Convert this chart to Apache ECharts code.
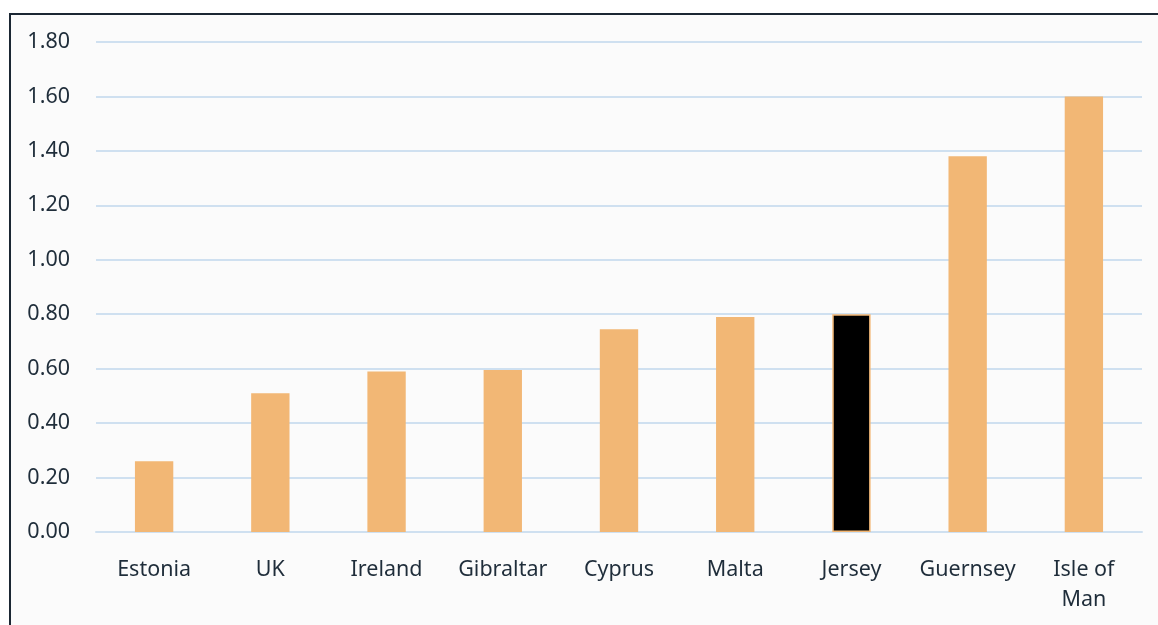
<!DOCTYPE html>
<html>
<head>
<meta charset="utf-8">
<script src="https://cdn.jsdelivr.net/npm/echarts@6/dist/echarts.min.js"></script>
<style>
html,body{margin:0;padding:0;background:#ffffff;width:1158px;height:625px;overflow:hidden;}
#frame{position:absolute;left:9px;top:13px;width:1200px;height:700px;border-left:2px solid #1b2733;border-top:2px solid #1b2733;background:#fbfbfb;}
#chart{position:absolute;left:0;top:0;width:1158px;height:625px;}
</style>
</head>
<body>
<div id="frame"></div>
<div id="chart"></div>
<script>
const categories = ['Estonia','UK','Ireland','Gibraltar','Cyprus','Malta','Jersey','Guernsey','Isle of Man'];
const values = [0.26, 0.51, 0.59, 0.595, 0.745, 0.79, 0.80, 1.38, 1.60];
const highlight = 'Jersey';
const yTicks = {min: 0, max: 1.8, interval: 0.2};

const font = '"Noto Sans", "Open Sans", sans-serif';
const chart = echarts.init(document.getElementById('chart'), null, {renderer: 'canvas'});
chart.setOption({
  backgroundColor: 'transparent',
  animation: false,
  grid: {left: 96, right: 16, top: 42, bottom: 93, containLabel: false},
  xAxis: {
    type: 'category',
    data: categories,
    axisLine: {show: true, lineStyle: {color: '#cfe0f0', width: 2}},
    axisTick: {show: false},
    axisLabel: {
      color: '#1f2d3a', fontSize: 21.5, fontFamily: font, margin: 23, lineHeight: 30,
      interval: 0,
      formatter: v => v.replace('Isle of ', 'Isle of\n')
    }
  },
  yAxis: {
    type: 'value',
    min: yTicks.min, max: yTicks.max, interval: yTicks.interval,
    axisLine: {show: false},
    axisTick: {show: false},
    splitLine: {lineStyle: {color: '#cfe0f0', width: 2}},
    axisLabel: {color: '#1f2d3a', fontSize: 21.5, fontFamily: font, margin: 26,
      formatter: v => v.toFixed(2)}
  },
  series: [{
    type: 'bar',
    barWidth: '33%',
    data: categories.map((c, i) => c === highlight
      ? {value: values[i], itemStyle: {color: '#000000', borderColor: '#f2b775', borderWidth: 1.5}}
      : {value: values[i]}),
    itemStyle: {color: '#f2b775'}
  }]
});
</script>
</body>
</html>
